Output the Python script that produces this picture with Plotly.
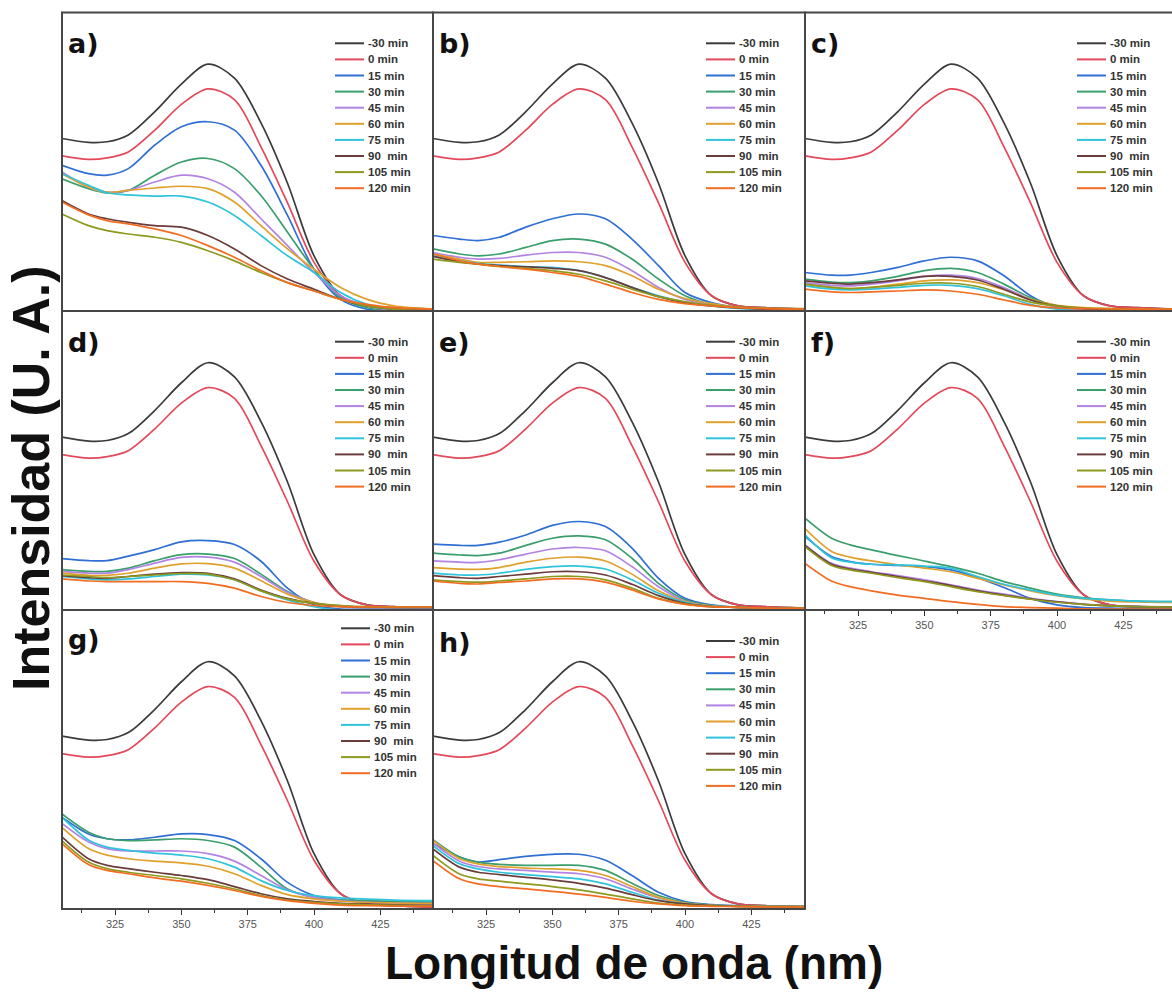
import plotly.graph_objects as go

# ---------------- data ----------------
WL = [305, 315, 322, 330, 340, 350, 360, 370, 380, 390, 400, 410, 420, 430, 445]

TIMES = ["-30 min", "0 min", "15 min", "30 min", "45 min", "60 min",
         "75 min", "90  min", "105 min", "120 min"]
COLORS = ["#3b3b3b", "#e3495a", "#2f6fd3", "#3a9f6c", "#b283e3", "#e0a02c",
          "#2fc3dc", "#6a3c3c", "#8e9a1e", "#f26d22"]
PANEL_LABELS = ["a)", "b)", "c)", "d)", "e)", "f)", "g)", "h)"]

# shared reference spectra (-30 min dark, 0 min)
M30 = [57.8, 56.5, 56.7, 59.0, 66.8, 76.0, 82.7, 78.0, 63.0, 42.8, 18.5, 5.1, 1.7, 1.1, 0.6]
M0 = [52.0, 50.8, 51.3, 53.3, 60.6, 69.2, 74.4, 70.8, 55.0, 36.2, 16.3, 5.1, 1.7, 1.1, 0.6]

# panel a
a15 = [48.8, 46.0, 45.5, 47.7, 55.6, 61.7, 63.4, 60.6, 48.8, 32.0, 14.0, 3.9, 0.6, 0.0, 0.0]
a30 = [44.3, 41.0, 39.6, 40.4, 45.5, 49.9, 51.1, 47.7, 38.7, 26.4, 14.0, 4.5, 1.1, 0.3, 0.0]
a45 = [46.6, 41.5, 39.8, 40.4, 43.2, 45.5, 44.3, 39.8, 30.9, 21.9, 12.9, 5.1, 1.7, 0.3, 0.0]
a60 = [46.0, 41.5, 39.8, 40.4, 41.2, 41.8, 41.0, 36.5, 28.6, 20.8, 14.0, 7.9, 3.9, 1.7, 0.6]
a75 = [46.0, 42.1, 39.6, 38.9, 38.5, 38.5, 36.5, 32.0, 25.3, 18.5, 12.9, 6.2, 2.2, 0.6, 0.0]
a90 = [37.0, 32.5, 30.9, 29.7, 28.6, 28.1, 25.3, 20.8, 15.2, 10.7, 7.3, 3.9, 1.7, 0.6, 0.0]
a105 = [32.5, 28.6, 26.9, 25.8, 24.7, 23.0, 20.2, 16.8, 12.9, 9.5, 6.7, 3.9, 1.7, 0.6, 0.0]
a120 = [36.5, 32.2, 30.3, 29.2, 27.5, 25.3, 21.9, 18.0, 13.5, 9.5, 6.7, 3.9, 2.2, 1.1, 0.6]

# panel b
b15 = [25.3, 24.1, 23.6, 24.7, 28.1, 30.9, 32.5, 30.9, 24.1, 15.2, 6.2, 2.8, 1.1, 0.6, 0.3]
b30 = [20.8, 19.1, 18.5, 19.1, 21.3, 23.6, 24.1, 22.4, 17.4, 10.7, 5.1, 2.2, 1.1, 0.6, 0.3]
b45 = [19.6, 18.0, 17.4, 17.6, 18.7, 19.6, 19.6, 18.0, 13.5, 7.9, 3.9, 2.2, 1.1, 0.6, 0.3]
b60 = [19.1, 17.4, 16.3, 16.3, 16.5, 16.8, 16.5, 15.2, 11.8, 7.3, 4.2, 2.5, 1.3, 0.8, 0.6]
b75 = [18.5, 16.8, 16.0, 15.4, 14.9, 14.6, 13.5, 11.2, 7.9, 5.1, 3.0, 1.7, 0.9, 0.6, 0.3]
b90 = [18.3, 16.5, 15.7, 15.2, 14.8, 14.3, 13.5, 11.2, 7.9, 4.8, 2.8, 1.7, 1.0, 0.6, 0.3]
b105 = [17.4, 16.3, 15.7, 14.9, 14.3, 13.5, 12.3, 10.1, 7.3, 4.8, 3.1, 2.0, 1.3, 1.0, 0.8]
b120 = [19.1, 16.8, 15.7, 14.9, 14.0, 12.9, 11.6, 9.0, 6.2, 3.9, 2.5, 1.7, 1.1, 0.8, 0.6]

# panel c
c15 = [12.9, 12.0, 12.0, 12.9, 14.6, 16.8, 18.0, 16.8, 11.8, 5.1, 1.1, 0.0, 0.0, 0.0, 0.0]
c30 = [10.7, 9.7, 9.5, 10.1, 11.6, 13.5, 14.3, 12.9, 9.0, 4.5, 1.7, 0.6, 0.3, 0.3, 0.3]
c45 = [9.5, 8.6, 8.4, 9.0, 10.1, 11.6, 12.0, 10.9, 7.9, 3.9, 1.3, 0.3, 0.0, 0.0, 0.0]
c60 = [9.0, 7.9, 7.5, 7.9, 9.0, 10.1, 10.4, 9.5, 7.1, 3.9, 1.9, 1.1, 0.8, 0.6, 0.6]
c75 = [8.4, 7.3, 7.1, 7.3, 7.9, 8.6, 8.6, 7.5, 5.1, 2.2, 0.6, 0.0, 0.0, 0.0, 0.0]
c90 = [10.1, 9.3, 9.0, 9.5, 10.4, 11.6, 11.6, 10.4, 7.3, 3.7, 1.7, 0.8, 0.6, 0.6, 0.6]
c105 = [9.0, 7.9, 7.5, 7.9, 8.6, 9.3, 9.3, 8.2, 5.6, 3.0, 1.7, 1.0, 0.8, 0.7, 0.6]
c120 = [7.3, 6.4, 6.2, 6.4, 6.7, 7.1, 6.7, 5.6, 3.7, 1.9, 1.0, 0.8, 0.7, 0.6, 0.6]

# panel d
d15 = [17.2, 16.5, 16.5, 18.0, 20.2, 22.8, 23.2, 21.9, 16.3, 7.3, 1.7, 0.3, 0.3, 0.3, 0.6]
d30 = [13.5, 12.9, 12.9, 14.0, 16.5, 18.5, 18.7, 17.2, 12.0, 6.2, 2.5, 1.1, 0.8, 0.8, 0.8]
d45 = [12.9, 12.3, 12.3, 13.5, 15.7, 17.6, 17.7, 16.0, 11.2, 5.9, 2.5, 1.1, 0.8, 0.8, 0.8]
d60 = [12.3, 11.6, 11.6, 12.3, 14.0, 15.4, 15.5, 14.0, 9.8, 5.3, 2.5, 1.3, 1.0, 0.9, 0.9]
d75 = [11.2, 10.4, 10.1, 10.4, 11.2, 12.0, 11.7, 10.1, 6.4, 3.4, 1.1, 0.0, 0.0, 0.0, 0.0]
d90 = [11.5, 10.8, 10.6, 11.2, 12.0, 12.5, 12.3, 10.4, 6.7, 3.9, 2.2, 1.3, 1.0, 0.9, 0.9]
d105 = [11.7, 11.2, 10.8, 11.2, 11.7, 12.2, 12.0, 10.1, 6.4, 3.7, 2.2, 1.5, 1.1, 1.0, 1.0]
d120 = [10.4, 9.7, 9.5, 9.5, 9.5, 9.5, 8.9, 7.3, 4.5, 2.5, 1.5, 1.1, 1.0, 1.0, 1.0]

# panel e
e15 = [22.0, 21.6, 21.6, 22.7, 25.1, 28.3, 29.6, 27.9, 20.7, 10.6, 3.9, 1.7, 0.9, 0.6, 0.6]
e30 = [19.0, 18.4, 18.2, 19.0, 21.6, 24.0, 24.8, 23.5, 17.3, 8.9, 3.4, 1.5, 0.9, 0.6, 0.6]
e45 = [16.4, 16.0, 15.9, 16.8, 18.7, 20.4, 20.9, 19.8, 14.5, 7.8, 3.0, 1.3, 0.9, 0.6, 0.6]
e60 = [14.2, 13.7, 13.6, 14.2, 16.0, 17.3, 17.7, 16.4, 12.0, 6.4, 2.8, 1.3, 0.9, 0.6, 0.6]
e75 = [12.3, 11.7, 11.7, 12.3, 13.6, 14.5, 14.7, 13.7, 10.1, 5.6, 2.6, 1.2, 0.9, 0.6, 0.6]
e90 = [11.5, 10.8, 10.6, 11.2, 12.0, 12.8, 12.8, 11.7, 8.6, 4.8, 2.2, 1.1, 0.9, 0.6, 0.6]
e105 = [10.1, 9.5, 9.3, 9.7, 10.4, 11.2, 11.2, 10.1, 7.3, 3.9, 2.0, 1.1, 0.9, 0.6, 0.6]
e120 = [9.7, 8.9, 8.7, 9.2, 9.7, 10.4, 10.4, 9.3, 6.7, 3.7, 1.9, 1.1, 0.9, 0.6, 0.6]

# panel f
f15 = [24.6, 17.9, 16.2, 15.3, 14.9, 14.5, 13.4, 10.8, 7.5, 3.9, 1.7, 0.8, 0.6, 0.6, 0.6]
f30 = [30.7, 24.0, 21.8, 20.1, 18.2, 16.4, 14.5, 12.3, 9.5, 7.3, 5.3, 4.1, 3.4, 3.0, 2.8]
f45 = [21.8, 15.6, 14.0, 12.8, 11.5, 10.1, 8.4, 6.7, 5.3, 3.9, 2.8, 2.0, 1.5, 1.2, 1.0]
f60 = [27.2, 19.6, 17.7, 16.4, 15.1, 14.0, 12.8, 10.6, 8.4, 6.4, 4.8, 3.7, 3.0, 2.7, 2.5]
f75 = [25.1, 17.5, 16.0, 15.3, 15.1, 14.7, 14.0, 11.2, 8.6, 6.7, 5.0, 3.9, 3.4, 3.0, 2.8]
f90 = [21.6, 15.3, 13.7, 12.6, 11.2, 9.7, 8.2, 6.4, 5.0, 3.7, 2.7, 1.9, 1.4, 1.1, 1.0]
f105 = [21.2, 14.9, 13.4, 12.3, 10.8, 9.5, 7.8, 6.1, 4.8, 3.6, 2.6, 1.9, 1.4, 1.1, 1.0]
f120 = [15.6, 9.7, 7.8, 6.4, 5.0, 3.9, 2.8, 1.9, 1.1, 0.8, 0.6, 0.4, 0.3, 0.3, 0.3]

# panel g
g15 = [30.7, 25.1, 23.5, 23.1, 24.0, 25.1, 24.9, 22.9, 16.8, 8.9, 4.5, 3.0, 2.6, 2.4, 2.2]
g30 = [31.8, 25.7, 23.5, 22.9, 23.1, 23.5, 22.9, 20.7, 14.0, 6.7, 3.9, 3.1, 2.8, 2.6, 2.2]
g45 = [28.6, 22.4, 20.2, 19.4, 19.4, 19.4, 18.5, 16.0, 11.2, 6.4, 3.9, 2.8, 2.2, 2.0, 1.8]
g60 = [27.3, 20.2, 18.0, 16.8, 16.0, 15.4, 14.3, 11.8, 7.9, 4.8, 3.4, 2.6, 2.2, 2.0, 1.8]
g75 = [30.7, 23.1, 20.7, 19.6, 18.7, 18.0, 16.8, 14.0, 9.5, 6.2, 4.5, 3.7, 3.3, 3.0, 2.8]
g90 = [24.1, 16.8, 14.6, 13.5, 12.3, 11.2, 9.8, 7.5, 5.1, 3.4, 2.5, 1.9, 1.6, 1.4, 1.2]
g105 = [22.8, 15.7, 13.5, 12.3, 11.2, 10.1, 8.6, 6.7, 4.5, 3.0, 2.2, 1.7, 1.4, 1.2, 1.0]
g120 = [21.9, 14.9, 12.9, 11.8, 10.4, 9.3, 7.9, 6.2, 4.2, 2.8, 1.9, 1.3, 1.1, 1.0, 0.9]

# panel h
h15 = [21.9, 17.4, 15.7, 16.5, 17.6, 18.3, 18.3, 16.3, 11.2, 5.6, 2.5, 1.5, 1.1, 0.9, 0.8]
h30 = [23.2, 17.4, 15.7, 14.9, 14.6, 14.6, 14.6, 12.9, 8.6, 4.5, 2.2, 1.3, 1.0, 0.9, 0.8]
h45 = [22.0, 16.0, 14.2, 13.4, 12.9, 12.3, 11.8, 10.1, 6.7, 3.7, 1.9, 1.1, 1.0, 0.9, 0.8]
h60 = [22.9, 16.8, 15.1, 14.2, 13.7, 13.4, 12.9, 11.2, 7.5, 3.9, 2.0, 1.2, 1.0, 0.9, 0.8]
h75 = [21.2, 15.1, 13.4, 12.3, 11.5, 10.8, 10.1, 8.4, 5.6, 3.0, 1.7, 1.0, 0.9, 0.8, 0.8]
h90 = [20.1, 14.0, 12.3, 11.5, 10.6, 9.7, 8.6, 7.0, 4.8, 2.8, 1.7, 1.1, 0.9, 0.8, 0.8]
h105 = [17.9, 11.7, 10.1, 9.3, 8.4, 7.5, 6.4, 5.0, 3.4, 2.0, 1.3, 1.0, 0.9, 0.8, 0.8]
h120 = [16.2, 10.1, 8.4, 7.5, 6.7, 5.9, 5.0, 3.9, 2.6, 1.7, 1.1, 0.9, 0.8, 0.7, 0.7]

PANEL_SERIES = [
    [M30, M0, a15, a30, a45, a60, a75, a90, a105, a120],
    [M30, M0, b15, b30, b45, b60, b75, b90, b105, b120],
    [M30, M0, c15, c30, c45, c60, c75, c90, c105, c120],
    [M30, M0, d15, d30, d45, d60, d75, d90, d105, d120],
    [M30, M0, e15, e30, e45, e60, e75, e90, e105, e120],
    [M30, M0, f15, f30, f45, f60, f75, f90, f105, f120],
    [M30, M0, g15, g30, g45, g60, g75, g90, g105, g120],
    [M30, M0, h15, h30, h45, h60, h75, h90, h105, h120],
]

# ---------------- layout geometry (pixels) ----------------
W, H = 1172, 992
ROWS = [(12.5, 311.0), (311.0, 610.0), (610.0, 909.0)]
COLS = [(62.0, 433.0), (433.0, 805.0), (805.0, 1172.0)]
PX_PER_NM = 2.653
GRID = [(0, 0), (0, 1), (0, 2), (1, 0), (1, 1), (1, 2), (2, 0), (2, 1)]
TICKED = {5, 6, 7}
LEG_POS = [(335, 43.3), (706, 43.3), (1077, 43.3),
           (335, 341.7), (706, 341.7), (1077, 341.7),
           (341, 628.3), (706, 641.0)]
LABEL_Y = [44, 44, 44, 343, 343, 343, 639, 642]
LEG_STEP = 16.1


def fx(x):
    return x / W


def fy(y):
    return 1 - y / H


fig = go.Figure()
layout = {}
shapes = []
annotations = []

for i, (r, c) in enumerate(GRID):
    n = i + 1
    xa, ya = ("x", "y") if n == 1 else (f"x{n}", f"y{n}")
    c0, c1 = COLS[c]
    r0, r1 = ROWS[r]
    ticked = i in TICKED
    layout["xaxis" if n == 1 else f"xaxis{n}"] = dict(
        domain=[fx(c0), fx(c1)],
        range=[305, 305 + (c1 - c0) / PX_PER_NM],
        anchor=ya, showgrid=False, zeroline=False, showline=False,
        ticks="outside" if ticked else "", ticklen=5, tickwidth=1, tickcolor="#333",
        showticklabels=ticked, tick0=0, dtick=25,
        tickfont=dict(family="Liberation Sans, Arial, sans-serif", size=11, color="#555"),
        minor=dict(ticks="outside" if ticked else "", ticklen=3, tickcolor="#333",
                   tick0=0, dtick=12.5, showgrid=False),
        fixedrange=True,
    )
    layout["yaxis" if n == 1 else f"yaxis{n}"] = dict(
        domain=[fy(r1), fy(r0)], range=[0, 100], anchor=xa,
        showgrid=False, zeroline=False, showline=False, ticks="",
        showticklabels=False, fixedrange=True,
    )
    for j, vals in enumerate(PANEL_SERIES[i]):
        fig.add_trace(go.Scatter(
            x=WL, y=vals, mode="lines", name=TIMES[j], showlegend=False,
            line=dict(color=COLORS[j], width=1.7, shape="spline", smoothing=0.9),
            xaxis=xa, yaxis=ya, hoverinfo="skip",
        ))
    # panel frame
    shapes.append(dict(type="rect", xref="paper", yref="paper",
                       x0=fx(c0), x1=fx(c1 + 6 if c == 2 else c1),
                       y0=fy(r1), y1=fy(r0),
                       line=dict(color="#474747", width=2), layer="above"))
    # panel label
    annotations.append(dict(text=PANEL_LABELS[i], xref="paper", yref="paper",
                            x=fx(c0 + 4), y=fy(LABEL_Y[i]), xanchor="left", yanchor="middle",
                            showarrow=False,
                            font=dict(family="DejaVu Sans, Arial, sans-serif", size=27,
                                      color="#111", weight="bold")))
    # legend
    lx, ly = LEG_POS[i]
    for j, name in enumerate(TIMES):
        yy = ly + j * LEG_STEP
        shapes.append(dict(type="line", xref="paper", yref="paper",
                           x0=fx(lx), x1=fx(lx + 29), y0=fy(yy), y1=fy(yy),
                           line=dict(color=COLORS[j], width=2)))
        annotations.append(dict(text=name, xref="paper", yref="paper",
                                x=fx(lx + 31), y=fy(yy), xanchor="left", yanchor="middle",
                                showarrow=False,
                                font=dict(family="Liberation Sans, Arial, sans-serif", size=11.5,
                                          color="#333", weight="bold")))

# axis titles
annotations.append(dict(text="Intensidad (U. A.)", xref="paper", yref="paper",
                        x=fx(31), y=fy(478), xanchor="center", yanchor="middle",
                        textangle=-90, showarrow=False,
                        font=dict(family="Liberation Sans, Arial, sans-serif", size=52,
                                  color="#111", weight="bold")))
annotations.append(dict(text="Longitud de onda (nm)", xref="paper", yref="paper",
                        x=fx(634), y=fy(963), xanchor="center", yanchor="middle",
                        showarrow=False,
                        font=dict(family="Liberation Sans, Arial, sans-serif", size=46,
                                  color="#111", weight="bold")))

fig.update_layout(
    width=W, height=H,
    margin=dict(l=0, r=0, t=0, b=0),
    paper_bgcolor="white", plot_bgcolor="white",
    showlegend=False,
    shapes=shapes, annotations=annotations,
    **layout,
)

fig.write_html(
    "out.html", include_plotlyjs=True, config={"displayModeBar": False},
    post_script="document.body.style.margin='0';document.body.style.overflow='hidden';",
)
